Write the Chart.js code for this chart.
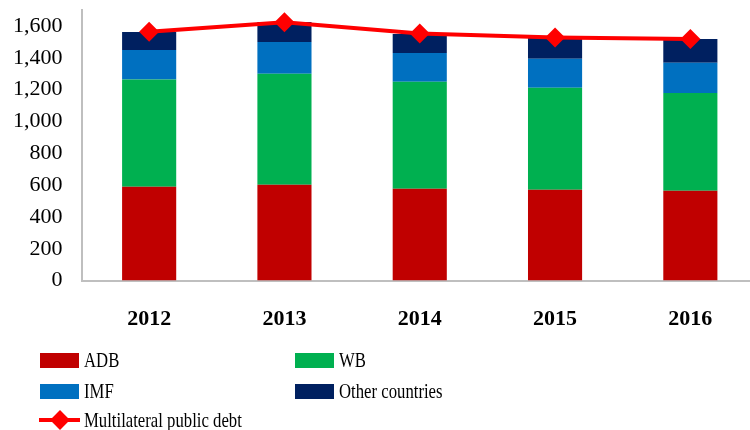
<!DOCTYPE html>
<html>
<head>
<meta charset="utf-8">
<script src="https://cdn.jsdelivr.net/npm/chart.js@4.4.1/dist/chart.umd.min.js"></script>
<style>
  html, body { margin: 0; padding: 0; background: #fff; }
  #wrap { position: relative; width: 750px; height: 430px; overflow: hidden; }
  #chart { position: absolute; left: 0; top: 0; }
  #legend { position: absolute; left: 0; top: 0; width: 750px; height: 430px; pointer-events: none;
            font-family: "Liberation Serif", "Times New Roman", serif; font-size: 22px; color: #000; }
  .item { position: absolute; height: 24px; line-height: 24px; white-space: nowrap; }
  .swatch { position: absolute; left: 0; top: 5px; width: 39px; height: 15px; }
  .lbl { position: absolute; left: 44px; top: 0; transform: scaleX(0.76); transform-origin: left center; }
  .ln { position: absolute; left: 0; top: 10px; width: 41px; height: 4px; background: #ff0000; }
  .dia { position: absolute; left: 14px; top: 5px; width: 14px; height: 14px; background: #ff0000; transform: rotate(45deg); }
</style>
</head>
<body>
<div id="wrap">
  <canvas id="chart" width="760" height="359"></canvas>
  <div id="legend"></div>
</div>
<script>
// Multilateral debt chart

const years = ["2012", "2013", "2014", "2015", "2016"];

const adb = [590, 602, 577, 571, 565];
const wb = [673, 698, 673, 640, 614];
const imf = [186, 199, 180, 182, 189];
const otherCountries = [113, 126, 120, 134, 150];
const multilateral = [1564, 1623, 1553, 1527, 1518];

const yTicks = [0, 200, 400, 600, 800, 1000, 1200, 1400, 1600];

const serif = "'Liberation Serif', 'Times New Roman', serif";

const barSets = [
    { label: "ADB", data: adb, color: "#c00000" },
    { label: "WB", data: wb, color: "#00b050" },
    { label: "IMF", data: imf, color: "#0070c0" },
    { label: "Other countries", data: otherCountries, color: "#002060" }
];

const datasets = barSets.map(s => ({
    type: "bar",
    label: s.label,
    data: s.data,
    backgroundColor: s.color,
    borderWidth: 0,
    barPercentage: 0.4,
    categoryPercentage: 1,
    order: 2
}));

datasets.push({
    type: "line",
    label: "Multilateral public debt",
    data: multilateral,
    borderColor: "#ff0000",
    backgroundColor: "#ff0000",
    borderWidth: 4,
    pointStyle: "rectRot",
    pointRadius: 10,
    pointBorderWidth: 0,
    tension: 0,
    clip: false,
    stack: "total",
    order: 0
});

// labels padding would otherwise push the plot area down
function noOverhang(axis){
    axis.paddingTop = 0;
    axis.paddingBottom = 0;
}

new Chart(document.getElementById("chart"), {
    data: { labels: years, datasets: datasets },
    options: {
        responsive: false,
        animation: false,
        layout: { autoPadding: false, padding: { left: -6, right: 2, top: 10, bottom: 0 } },
        plugins: {
            legend: { display: false },
            tooltip: { enabled: false }
        },
        scales: {
            x: {
                stacked: true,
                grid: { display: false, drawTicks: false },
                border: { color: "#bfbfbf", width: 2 },
                ticks: {
                    color: "#000",
                    padding: 26,
                    font: { family: serif, size: 22, weight: "bold" }
                }
            },
            y: {
                stacked: true,
                min: 0,
                max: 1700,
                grid: { display: false, drawTicks: false },
                border: { color: "#bfbfbf", width: 2 },
                afterBuildTicks: axis => {
                    axis.ticks = yTicks.map(v => ({ value: v }));
                },
                afterFit: noOverhang,
                ticks: {
                    color: "#000",
                    padding: 19,
                    autoSkip: false,
                    font: { family: serif, size: 22 },
                    callback: v => v.toLocaleString("en-US")
                }
            }
        }
    }
});

// legend in two columns like the original
const legend = document.getElementById("legend");
const spots = [[40, 348], [295, 348], [40, 379], [295, 379]];

barSets.forEach((s, i) => {
    const item = document.createElement("div");
    item.className = "item";
    item.style.left = spots[i][0] + "px";
    item.style.top = spots[i][1] + "px";
    item.innerHTML = '<div class="swatch" style="background:' + s.color + '"></div><span class="lbl">' + s.label + "</span>";
    legend.appendChild(item);
});

const lineItem = document.createElement("div");
lineItem.className = "item";
lineItem.style.left = "39px";
lineItem.style.top = "408px";
lineItem.innerHTML = '<div class="ln"></div><div class="dia"></div><span class="lbl" style="left:45px">Multilateral public debt</span>';
legend.appendChild(lineItem);
</script>
</body>
</html>
